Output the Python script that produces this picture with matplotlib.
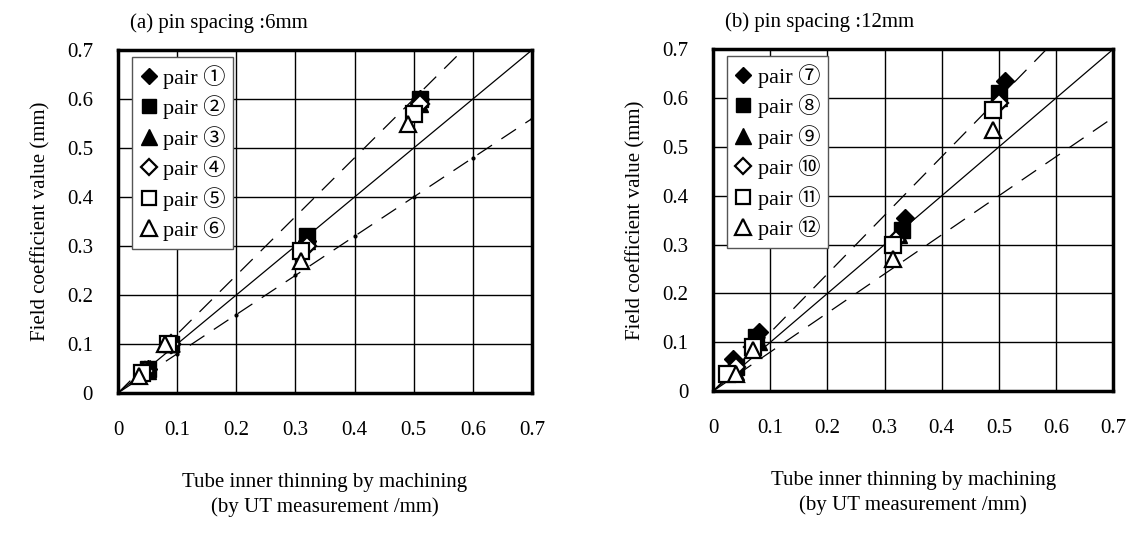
import numpy as np
import matplotlib
matplotlib.use("Agg")
import matplotlib.pyplot as plt

plt.rcParams['font.family'] = ['Liberation Serif', 'Noto Sans CJK JP', 'DejaVu Sans']

# panel (a) pin spacing 6 mm : x = UT measurement, y = field coefficient value
a_labels = ["pair ①", "pair ②", "pair ③", "pair ④", "pair ⑤", "pair ⑥"]
a_x = [
    [0.05, 0.09, 0.32, 0.51],
    [0.05, 0.09, 0.32, 0.51],
    [0.05, 0.09, 0.32, 0.51],
    [0.045, 0.09, 0.32, 0.51],
    [0.04, 0.085, 0.31, 0.50],
    [0.035, 0.08, 0.31, 0.49],
]
a_y = [
    [0.05, 0.10, 0.31, 0.60],
    [0.05, 0.10, 0.32, 0.60],
    [0.045, 0.10, 0.31, 0.59],
    [0.045, 0.10, 0.30, 0.59],
    [0.04, 0.10, 0.29, 0.57],
    [0.035, 0.10, 0.27, 0.55],
]

# panel (b) pin spacing 12 mm
b_labels = ["pair ⑦", "pair ⑧", "pair ⑨", "pair ⑩", "pair ⑪", "pair ⑫"]
b_x = [
    [0.035, 0.08, 0.335, 0.51],
    [0.04, 0.075, 0.33, 0.50],
    [0.04, 0.08, 0.325, 0.50],
    [0.04, 0.07, 0.32, 0.50],
    [0.025, 0.07, 0.315, 0.49],
    [0.04, 0.07, 0.315, 0.49],
]
b_y = [
    [0.065, 0.12, 0.355, 0.635],
    [0.05, 0.11, 0.33, 0.61],
    [0.04, 0.10, 0.32, 0.60],
    [0.05, 0.09, 0.31, 0.59],
    [0.035, 0.09, 0.30, 0.575],
    [0.035, 0.085, 0.27, 0.535],
]

ticks = [0, 0.1, 0.2, 0.3, 0.4, 0.5, 0.6, 0.7]
tick_labels = ["0", "0.1", "0.2", "0.3", "0.4", "0.5", "0.6", "0.7"]
ref_x = np.array([0, 0.1, 0.2, 0.3, 0.4, 0.5, 0.6, 0.7])
upper_slope = 1.2
lower_slope = 0.8

styles = [
    dict(marker="D", mfc="black", mec="black", ms=9),
    dict(marker="s", mfc="black", mec="black", ms=11),
    dict(marker="^", mfc="black", mec="black", ms=12),
    dict(marker="D", mfc="white", mec="black", ms=9, mew=1.6),
    dict(marker="s", mfc="white", mec="black", ms=11, mew=1.6),
    dict(marker="^", mfc="white", mec="black", ms=12, mew=1.6),
]


def draw_panel(ax, xs, ys, labels, title, title_x, dotted_lower):
    ax.set_xlim(0, 0.7)
    ax.set_ylim(0, 0.7)
    ax.set_xticks(ticks)
    ax.set_yticks(ticks)
    ax.set_xticklabels(tick_labels)
    ax.set_yticklabels(tick_labels)
    ax.grid(True, color="black", linewidth=1.0)
    ax.set_axisbelow(True)
    ax.tick_params(length=0, labelsize=15)
    ax.tick_params(axis="x", pad=20)
    ax.tick_params(axis="y", pad=18)
    for s in ax.spines.values():
        s.set_linewidth(2.5)

    # reference lines
    ax.plot(ref_x, ref_x, color="black", lw=0.9)
    ax.plot(ref_x, upper_slope * ref_x, color="black", lw=0.9, dashes=(14, 9))
    if dotted_lower:
        ax.plot(ref_x, lower_slope * ref_x, color="black", lw=0.9,
                dashes=(14, 9), marker=".", ms=4)
    else:
        ax.plot(ref_x, lower_slope * ref_x, color="black", lw=0.9, dashes=(14, 9))

    for i in range(len(labels)):
        ax.plot(xs[i], ys[i], linestyle="none", label=labels[i], **styles[i])

    leg = ax.legend(loc="upper left", bbox_to_anchor=(0.034, 0.98), fontsize=16,
                    frameon=True, fancybox=False, handlelength=0.8,
                    handletextpad=0.25, borderpad=0.35, labelspacing=0.3,
                    borderaxespad=0.0, markerscale=0.95)
    leg.get_frame().set_edgecolor("#555555")
    leg.get_frame().set_linewidth(1.0)
    leg.get_frame().set_alpha(1)

    ax.set_ylabel("Field coefficient value (mm)", fontsize=15, labelpad=12)
    ax.set_xlabel("Tube inner thinning by machining\n(by UT measurement /mm)",
                  fontsize=15, labelpad=24, linespacing=1.35)
    ax.text(title_x, 1.05, title, transform=ax.transAxes, fontsize=15,
            ha="left", va="bottom")


fig = plt.figure(figsize=(11.32, 5.35), dpi=100)
ax1 = fig.add_axes([0.1042, 0.2654, 0.3657, 0.641])
ax2 = fig.add_axes([0.6300, 0.2690, 0.3534, 0.639])

draw_panel(ax1, a_x, a_y, a_labels, "(a) pin spacing :6mm", 0.03, True)
draw_panel(ax2, b_x, b_y, b_labels, "(b) pin spacing :12mm", 0.03, False)

fig.savefig("out.png", dpi=100)
